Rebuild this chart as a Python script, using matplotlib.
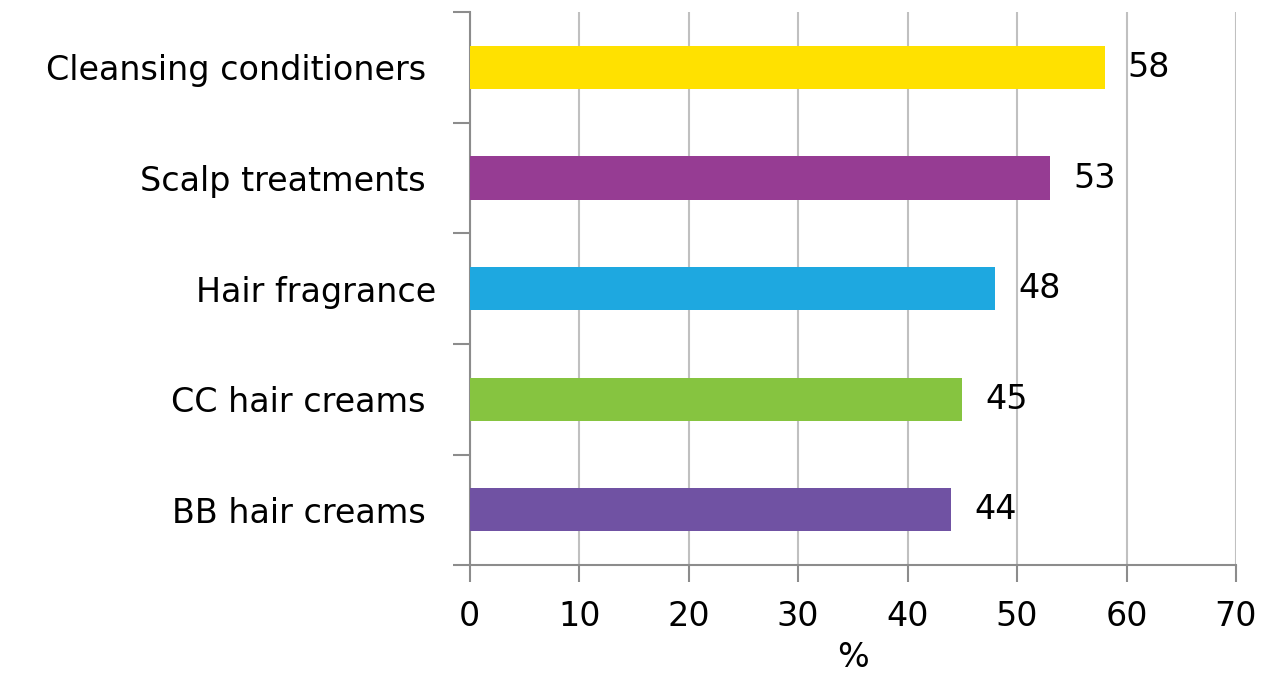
import numpy as np
import matplotlib.pyplot as plt

plt.rcParams['font.family'] = ['DejaVu Sans']

# 各类产品及其百分比（从下到上）
categories = ['BB hair creams ', 'CC hair creams ', 'Hair fragrance', 'Scalp treatments ', 'Cleansing conditioners ']
values = [44, 45, 48, 53, 58]
colors = ['#7052A3', '#86C440', '#1EA8E0', '#963C93', '#FFE100']
xticks = [0, 10, 20, 30, 40, 50, 60, 70]

fs = 24

fig = plt.figure(figsize=(12.63, 6.76), dpi=100)
ax = fig.add_axes([0.372, 0.164, 0.6066, 0.818])

y = np.arange(len(categories))
ax.barh(y, values, height=0.39, color=colors, zorder=3)

# 数值标签
for yi, v in zip(y, values):
    ax.text(v + 2.1, yi, str(v), va='center', ha='left', fontsize=fs, color='black')

ax.set_xlim(0, 70)
ax.set_ylim(-0.5, len(categories) - 0.5)
ax.set_xticks(xticks)
ax.set_xticklabels([str(t) for t in xticks], fontsize=fs)

# 主刻度在类别边界，标签放在次刻度（类别中心）
ax.set_yticks(np.arange(len(categories) + 1) - 0.5)
ax.set_yticklabels([])
ax.set_yticks(y, minor=True)
ax.set_yticklabels(categories, minor=True, fontsize=fs)
ax.tick_params(axis='y', which='minor', length=0, pad=24)
ax.tick_params(axis='y', which='major', length=12, color='#8c8c8c', width=1.5)
ax.tick_params(axis='x', length=12, color='#8c8c8c', width=1.5, pad=13)

ax.grid(axis='x', color='#c0c0c0', linewidth=1.5, zorder=0)
for s in ['top', 'right']:
    ax.spines[s].set_visible(False)
for s in ['left', 'bottom']:
    ax.spines[s].set_color('#8c8c8c')
    ax.spines[s].set_linewidth(1.5)

ax.set_xlabel('%', fontsize=fs, labelpad=6)

fig.savefig('out.png', dpi=100)
